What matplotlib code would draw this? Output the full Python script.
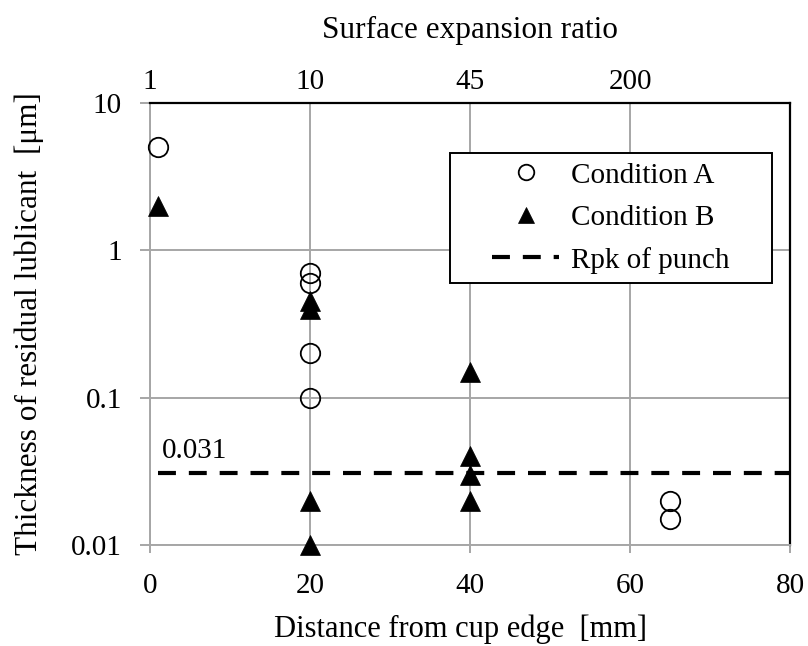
import matplotlib
matplotlib.use("Agg")
import matplotlib.pyplot as plt
from matplotlib.patches import Rectangle
from matplotlib.ticker import FixedLocator, FixedFormatter, NullLocator

plt.rcParams["font.family"] = ["Liberation Serif", "DejaVu Serif"]
plt.rcParams["mathtext.fontset"] = "stix"

# Condition A (open circles)
dist_a = [1, 20, 20, 20, 20, 65, 65]
thick_a = [5.0, 0.7, 0.6, 0.2, 0.1, 0.02, 0.015]

# Condition B (filled triangles)
dist_b = [1, 20, 20, 20, 20, 40, 40, 40, 40]
thick_b = [2.0, 0.45, 0.4, 0.02, 0.01, 0.15, 0.04, 0.03, 0.02]

# Rpk of punch
rpk_value = 0.031
rpk_span = [1, 80]

# Axis ticks
x_ticks = [0, 20, 40, 60, 80]
y_ticks = [0.01, 0.1, 1, 10]
y_tick_labels = ["0.01", "0.1", "1", "10"]
top_ticks = [0, 20, 40, 60]
top_tick_labels = ["1", "10", "45", "200"]

GRID = "#a6a6a6"
FS = 21
FS_TITLE = 22.5

fig = plt.figure(figsize=(8.08, 6.46), dpi=100)
ax = fig.add_axes([150 / 808, 101 / 646, 640 / 808, 442 / 646])

ax.set_yscale("log")
ax.set_xlim(0, 80)
ax.set_ylim(0.01, 10)

ax.xaxis.set_major_locator(FixedLocator(x_ticks))
ax.yaxis.set_major_locator(FixedLocator(y_ticks))
ax.yaxis.set_major_formatter(FixedFormatter(y_tick_labels))
ax.yaxis.set_minor_locator(NullLocator())
ax.xaxis.set_minor_locator(NullLocator())

ax.grid(True, which="major", color=GRID, linewidth=1.4, zorder=0)
ax.set_axisbelow(True)

for side in ("left", "bottom"):
    ax.spines[side].set_color(GRID)
    ax.spines[side].set_linewidth(1.4)
for side in ("top", "right"):
    ax.spines[side].set_color("black")
    ax.spines[side].set_linewidth(1.6)

ax.tick_params(axis="y", which="major", direction="out", length=7.2,
               width=1.4, color=GRID, labelsize=FS, pad=13)
ax.tick_params(axis="x", which="major", direction="out", length=6,
               width=1.4, color=GRID, labelsize=FS, pad=14.5)

ax.plot(rpk_span, [rpk_value, rpk_value], color="black", linewidth=3,
        linestyle=(0, (4.3, 3.1)), label="Rpk of punch", zorder=2)

ax.plot(dist_a, thick_a, linestyle="none", marker="o", markersize=14,
        markerfacecolor="none", markeredgecolor="black", markeredgewidth=1.3,
        label="Condition A", zorder=3, clip_on=False)
ax.plot(dist_b, thick_b, linestyle="none", marker="^", markersize=14,
        markerfacecolor="black", markeredgecolor="black", markeredgewidth=0.5,
        label="Condition B", zorder=3, clip_on=False)

ax.text(1.5, rpk_value * 1.15, f"{rpk_value}", fontsize=FS,
        ha="left", va="bottom", zorder=4)

ax.set_xlabel("Distance from cup edge  [mm]", fontsize=22)
ax.xaxis.set_label_coords(0.485, -0.158)
ax.set_ylabel("Thickness of residual lublicant  [μm]", fontsize=FS_TITLE)
ax.yaxis.set_label_coords(-0.166, 0.5)

top = ax.secondary_xaxis("top")
top.set_xticks(top_ticks)
top.set_xticklabels(top_tick_labels)
top.tick_params(length=0, labelsize=FS, pad=6)
top.spines["top"].set_visible(False)
top.set_xlabel("Surface expansion ratio", fontsize=FS_TITLE, labelpad=22)

# Legend box drawn as a plain rectangle so the padding can be wider than tall
box = Rectangle((0.469, 0.593), 0.503, 0.294, transform=ax.transAxes,
                facecolor="white", edgecolor="black", linewidth=1.4,
                zorder=4, clip_on=False)
ax.add_patch(box)

handles, labels = ax.get_legend_handles_labels()
order = [1, 2, 0]
leg = ax.legend([handles[i] for i in order], [labels[i] for i in order],
                loc="center", bbox_to_anchor=(0.720, 0.740),
                fontsize=FS, frameon=False, markerscale=0.8,
                handlelength=2.3, borderpad=0, labelspacing=0.54,
                handletextpad=0.4, borderaxespad=0)
leg.set_zorder(5)

fig.savefig("out.png", dpi=100)
